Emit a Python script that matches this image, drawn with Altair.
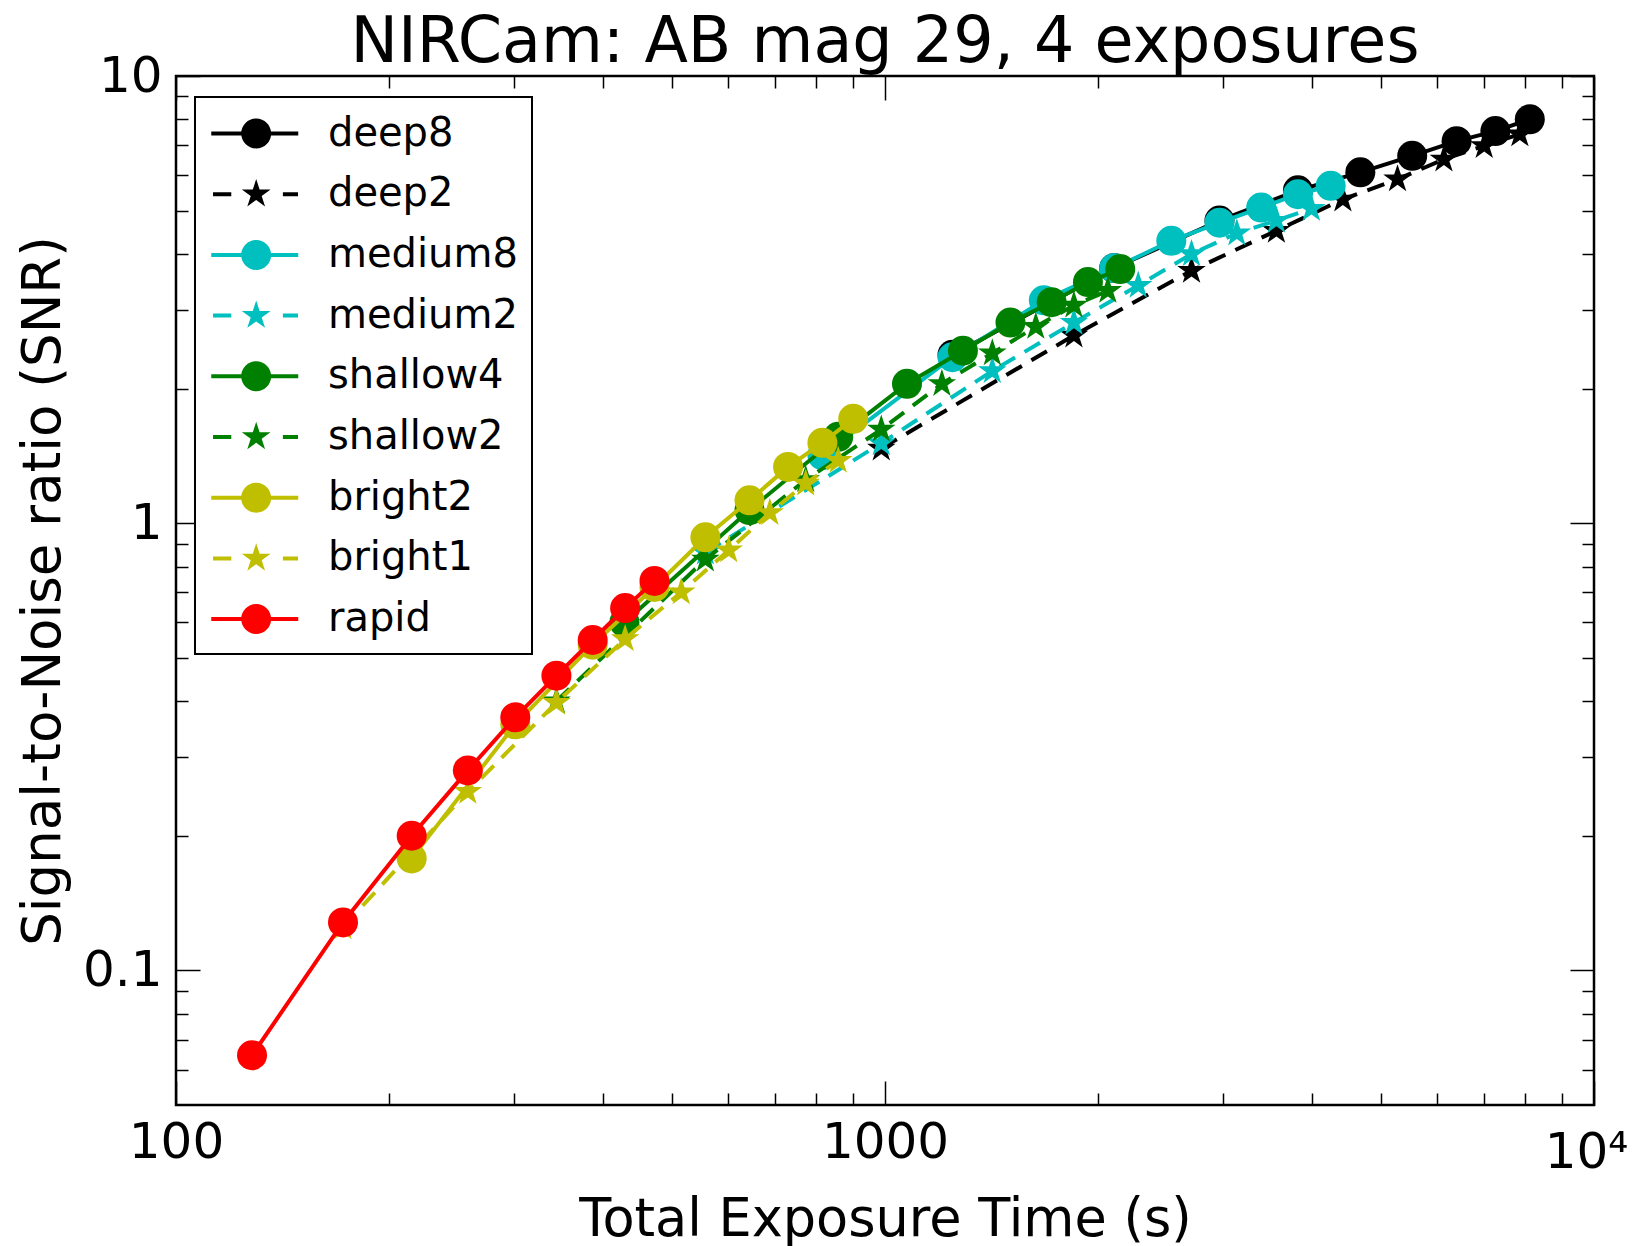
import json
import math
import altair as alt
import pandas as pd

# ---------------- data ----------------
series = ["deep8", "deep2", "medium8", "medium2", "shallow4",
          "shallow2", "bright2", "bright1", "rapid"]
colors = ["#000000", "#000000", "#00bfbf", "#00bfbf", "#008000",
          "#008000", "#bfbf00", "#bfbf00", "#ff0000"]
dashed_series = ["deep2", "medium2", "shallow2", "bright1"]

deep8_time = [1245, 2105, 2963, 3823, 4682, 5541, 6400, 7259, 8118]
deep8_snr = [2.38, 3.72, 4.75, 5.55, 6.09, 6.63, 7.15, 7.53, 8.00]
deep2_time = [988, 1847, 2706, 3565, 4424, 5283, 6142, 7001, 7860]
deep2_snr = [1.47, 2.63, 3.67, 4.51, 5.30, 5.88, 6.51, 6.98, 7.41]
medium8_time = [816, 1245, 1675, 2105, 2534, 2963, 3393, 3823, 4252]
medium8_snr = [1.42, 2.35, 3.15, 3.72, 4.28, 4.70, 5.08, 5.44, 5.68]
medium2_time = [558, 988, 1417, 1847, 2276, 2706, 3135, 3565, 3994]
medium2_snr = [0.86, 1.51, 2.19, 2.81, 3.40, 4.00, 4.45, 4.75, 5.05]
shallow4_time = [429, 644, 859, 1074, 1288, 1503, 1718, 1933, 2147]
shallow4_snr = [0.60, 1.07, 1.56, 2.05, 2.43, 2.81, 3.12, 3.46, 3.70]
shallow2_time = [344, 558, 773, 988, 1203, 1417, 1632, 1847, 2062]
shallow2_snr = [0.40, 0.83, 1.25, 1.62, 2.05, 2.40, 2.75, 3.07, 3.31]
bright2_time = [215, 301, 387, 473, 558, 644, 730, 816, 902]
bright2_snr = [0.178, 0.355, 0.535, 0.72, 0.93, 1.125, 1.336, 1.513, 1.712]
bright1_time = [172, 258, 344, 430, 516, 602, 688, 773, 859]
bright1_snr = [0.125, 0.251, 0.397, 0.551, 0.701, 0.870, 1.055, 1.227, 1.380]
rapid_time = [128, 172, 215, 258, 301, 344, 387, 430, 473]
rapid_snr = [0.0646, 0.128, 0.200, 0.280, 0.368, 0.456, 0.548, 0.646, 0.743]

x_major = [100, 1000, 10000]
x_minor = [200, 300, 400, 500, 600, 700, 800, 900,
           2000, 3000, 4000, 5000, 6000, 7000, 8000, 9000]
y_major = [0.1, 1, 10]
y_minor = [0.06, 0.07, 0.08, 0.09, 0.2, 0.3, 0.4, 0.5, 0.6, 0.7, 0.8, 0.9,
           2, 3, 4, 5, 6, 7, 8, 9]

times = {"deep8": deep8_time, "deep2": deep2_time, "medium8": medium8_time,
         "medium2": medium2_time, "shallow4": shallow4_time,
         "shallow2": shallow2_time, "bright2": bright2_time,
         "bright1": bright1_time, "rapid": rapid_time}
snrs = {"deep8": deep8_snr, "deep2": deep2_snr, "medium8": medium8_snr,
        "medium2": medium2_snr, "shallow4": shallow4_snr,
        "shallow2": shallow2_snr, "bright2": bright2_snr,
        "bright1": bright1_snr, "rapid": rapid_snr}

rows = []
for s in series:
    for t, v in zip(times[s], snrs[s]):
        rows.append({"series": s, "time": t, "snr": v})
df = pd.DataFrame(rows)

# ---------------- marker / legend symbol geometry ----------------
def star_pts(cx, cy, R):
    pts = []
    for k in range(10):
        r = R if k % 2 == 0 else R * 0.381966
        a = math.radians(-90 + 36 * k)
        pts.append((cx + r * math.cos(a), cy + r * math.sin(a)))
    return "M" + "L".join(f"{x:.4f},{y:.4f}" for x, y in pts) + "Z"

def rect(x0, x1, h):
    return f"M{x0:.3f},{-h:.3f}L{x1:.3f},{-h:.3f}L{x1:.3f},{h:.3f}L{x0:.3f},{h:.3f}Z"

def circle(cx, r):
    return (f"M{cx + r:.4f},0A{r:.4f},{r:.4f} 0 1 1 {cx - r:.4f},0"
            f"A{r:.4f},{r:.4f} 0 1 1 {cx + r:.4f},0Z")

STAR = star_pts(0, 0, 1.0)

# legend symbol: unit = 22.25 px (symbolSize 1980)
LCX = 1.11
LH = 0.09
LEG_SOLID = rect(-0.91, LCX - 0.6, LH) + rect(LCX + 0.6, 3.0, LH) + circle(LCX, 0.674)
LEG_DASH = rect(-0.83, -0.01, LH) + rect(2.31, 2.99, LH) + star_pts(LCX, 0, 0.68)

W, H = 1418, 1029
FONT = "DejaVu Sans"

xscale = alt.Scale(type="log", domain=[100, 10000], nice=False)
yscale = alt.Scale(type="log", domain=[0.05, 10], nice=False)
cscale = alt.Scale(domain=series, range=colors)

shape_expr = ("indexof(" + json.dumps(dashed_series).replace('"', "'") +
              ", datum.value) >= 0 ? '" + LEG_DASH + "' : '" + LEG_SOLID + "'")

legend = alt.Legend(
    title=None, orient="none", legendX=19, legendY=21,
    labelFont=FONT, labelFontSize=40, labelColor="black", labelLimit=0,
    labelOffset=74, symbolSize=1980, symbolStrokeWidth=0,
    symbolType={"expr": shape_expr},
    rowPadding=17.7, padding=14, strokeColor="black", fillColor="white",
    cornerRadius=0,
)

major_test_x = "indexof(" + json.dumps(x_major) + ", datum.value) >= 0"
major_test_y = "indexof([0.1, 1, 10], datum.value) >= 0"

def tick_axis(orient, offset, values, test):
    return alt.Axis(orient=orient, offset=offset, values=values, labels=False,
                    domain=False, grid=False, tickColor="black", tickWidth=1.5,
                    tickSize={"condition": {"test": test, "value": 24}, "value": 12},
                    title=None)

ax_x_labels = alt.Axis(
    orient="bottom", values=x_major, ticks=False, tickSize=0, domain=False,
    grid=False, labelExpr="datum.value >= 10000 ? '10⁴' : format(datum.value, 'd')",
    labelFont=FONT, labelFontSize=50, labelColor="black",
    labelPadding={"condition": {"test": "datum.value >= 10000", "value": 22}, "value": 12},
    labelOffset={"condition": {"test": "datum.value >= 10000", "value": -8}, "value": 0},
    labelFlush=False, labelOverlap=False,
    title="Total Exposure Time (s)", titleFont=FONT, titleFontSize=52.5,
    titleFontWeight="normal", titleColor="black", titlePadding=17)
ax_y_labels = alt.Axis(
    orient="left", values=y_major, ticks=False, tickSize=0, domain=False,
    grid=False, labelExpr="format(datum.value, '~g')",
    labelFont=FONT, labelFontSize=50, labelColor="black", labelPadding=14,
    labelFlush=False, labelOverlap=False,
    title="Signal-to-Noise ratio (SNR)", titleFont=FONT, titleFontSize=53,
    titleFontWeight="normal", titleColor="black", titlePadding=12)

x_all = sorted(x_major + x_minor)
y_all = sorted(y_major + y_minor)
ax_x_bottom = tick_axis("top", -H, x_all, major_test_x)
ax_x_top = tick_axis("bottom", -H, x_all, major_test_x)
ax_y_left = tick_axis("right", -W, y_all, major_test_y)
ax_y_right = tick_axis("left", -W, y_all, major_test_y)

axes_plan = [(ax_x_labels, ax_y_labels), (ax_x_bottom, ax_y_left), (ax_x_top, ax_y_right)]

layers = []
for s, col in zip(series, colors):
    base = alt.Chart(df).transform_filter(alt.datum.series == s)
    if s in dashed_series:
        line_mark = base.mark_line(color=col, strokeWidth=4, strokeDash=[18, 11], opacity=1)
        pt_mark = base.mark_point(shape=STAR, filled=True, size=900, opacity=1, strokeWidth=0)
    else:
        line_mark = base.mark_line(color=col, strokeWidth=4, opacity=1)
        pt_mark = base.mark_point(shape="circle", filled=True, size=900, opacity=1, strokeWidth=0)
    for kind, mk in (("line", line_mark), ("pt", pt_mark)):
        idx = len(layers)
        if idx < len(axes_plan):
            xa, ya = axes_plan[idx]
        else:
            xa, ya = None, None
        enc = dict(
            x=alt.X("time:Q", scale=xscale, axis=xa),
            y=alt.Y("snr:Q", scale=yscale, axis=ya),
        )
        if kind == "pt":
            enc["color"] = alt.Color("series:N", scale=cscale, legend=legend)
        layers.append(mk.encode(**enc))

chart = alt.layer(*layers).resolve_axis(
    x="independent", y="independent"
).properties(
    width=W, height=H,
    padding={"left": 168, "top": 68, "right": 39, "bottom": 141},
    autosize=alt.AutoSizeParams(type="none"),
    title=alt.TitleParams(text="NIRCam: AB mag 29, 4 exposures", font=FONT,
                          fontSize=63.5, fontWeight="normal", color="black",
                          anchor="middle", frame="group", offset=14, dy=38),
).configure(font=FONT).configure_view(
    stroke="black", strokeWidth=2.5
).configure_legend(strokeWidth=2)

chart.save("out.html", embed_options={"renderer": "svg", "actions": False})
